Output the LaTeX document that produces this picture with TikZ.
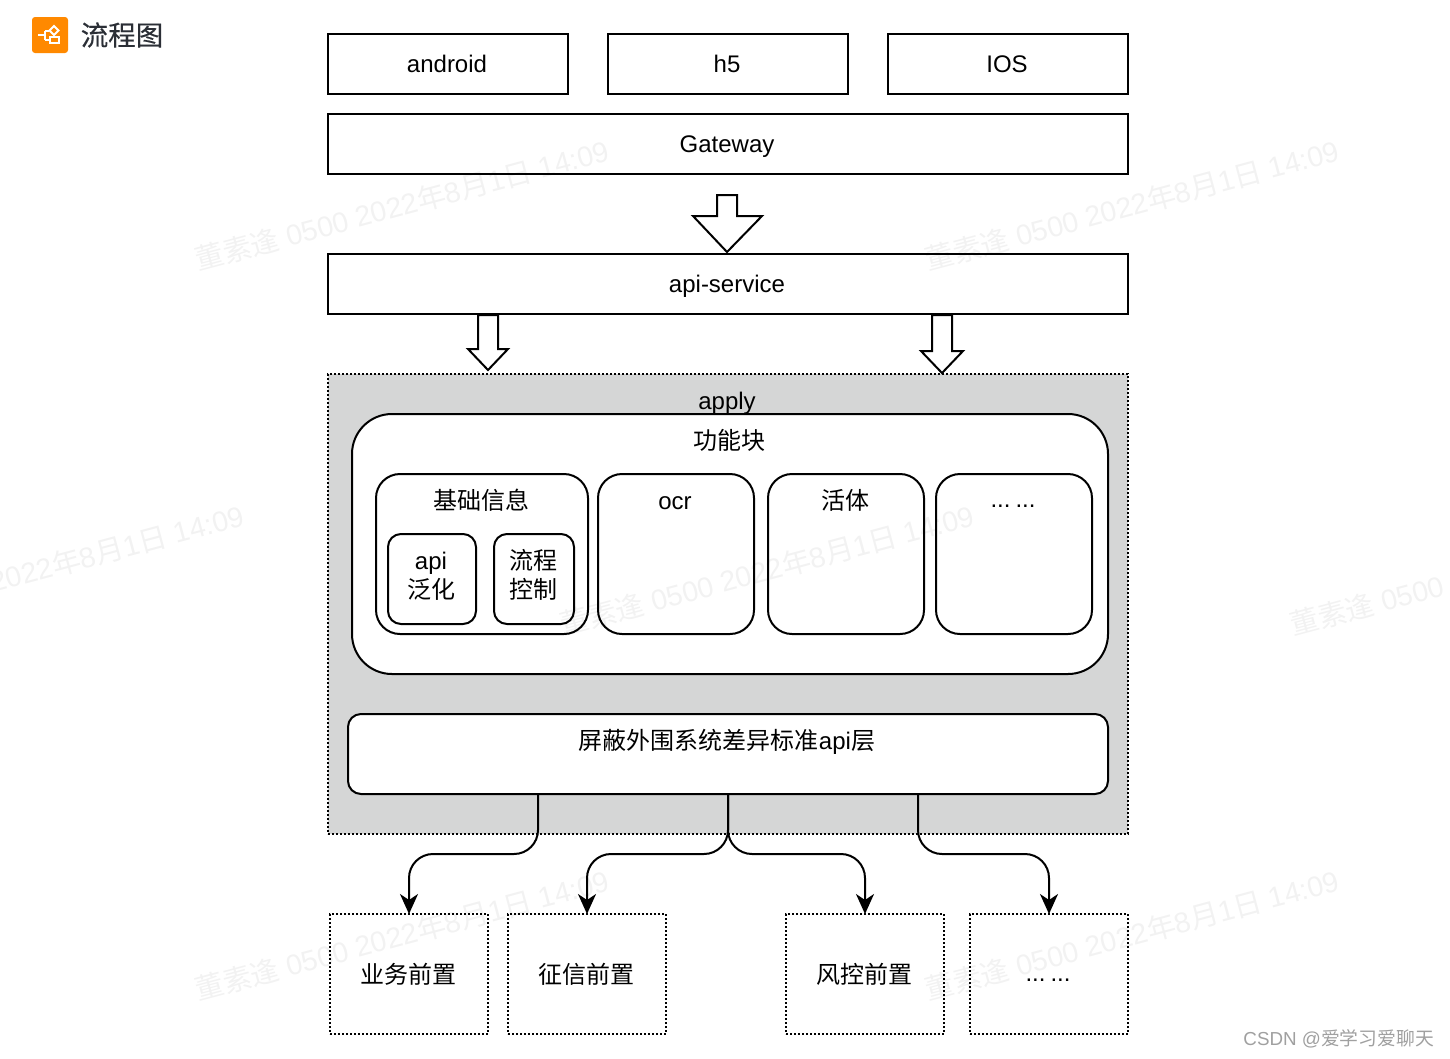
\documentclass[tikz,border=0pt]{standalone}
\usepackage{fontspec}
\setmainfont{Liberation Sans}
\newfontfamily\cjk{Noto Sans CJK SC}
\newfontfamily\cjkm{Noto Sans CJK SC}[FakeBold=0.35]
\usetikzlibrary{arrows.meta}
\definecolor{applygrey}{HTML}{D5D6D6}
\newcommand{\wmtext}{{\cjk 董素逢} 0500 2022{\cjk 年}8{\cjk 月}1{\cjk 日} 14:09}
\tikzset{
  box/.style={draw=black,line width=2pt,fill=white,inner sep=0pt,outer sep=0pt},
  plainbox/.style={box,rectangle},
  dotbox/.style={box,dash pattern=on 2pt off 2pt},
  lbl/.style={inner sep=0pt,outer sep=0pt,align=center,font=\fontsize{24}{28.5}\selectfont},
  blockarrow/.style={draw=black,line width=2pt,fill=white,line join=miter},
  conn/.style={draw=black,line width=2pt,rounded corners=24pt,-{Stealth[length=20pt,width=18pt,inset=6pt]}},
  wm/.style={inner sep=0pt,rotate=15,text=black,text opacity=0.05,font=\fontsize{28.7}{34}\selectfont},
}
\begin{document}
\begin{tikzpicture}[x=1pt,y=-1pt]
\path[use as bounding box,fill=white] (0,0) rectangle (1450,1058);
\clip (0,0) rectangle (1450,1058);

% top row
\node[plainbox,minimum width=240pt,minimum height=60pt] (android) at (448,64) {};
\node[plainbox,minimum width=240pt,minimum height=60pt] (h5) at (728,64) {};
\node[plainbox,minimum width=240pt,minimum height=60pt] (ios) at (1008,64) {};
\node[plainbox,minimum width=800pt,minimum height=60pt] (gateway) at (728,144) {};
\node[plainbox,minimum width=800pt,minimum height=60pt] (apiservice) at (728,284) {};
\node[lbl] (tandroid) at (447,64) {android};
\node[lbl] (th5) at (727,64) {h5};
\node[lbl] (tios) at (1007,64) {IOS};
\node[lbl] (tgateway) at (727,146.5) {Gateway};
\node[lbl] (tapiservice) at (727,286) {api-service};

% block arrows
\draw[blockarrow] (717,195) -- (737,195) -- (737,216) -- (762,216) -- (727,252) -- (693,216) -- (717,216) -- cycle;
\draw[blockarrow] (478,315) -- (498,315) -- (498,349) -- (508,349) -- (488,370) -- (468,349) -- (478,349) -- cycle;

% apply container
\node[dotbox,fill=applygrey,minimum width=800pt,minimum height=460pt] (apply) at (728,604) {};
\draw[blockarrow] (932,315) -- (952,315) -- (952,351) -- (963,351) -- (942,373) -- (921,351) -- (932,351) -- cycle;
\node[box,rounded corners=40pt,minimum width=756pt,minimum height=260pt] (func) at (730,544) {};
\node[lbl] (tapply) at (727,403) {apply};
\node[lbl] (tfunc) at (729,440) {\cjk 功能块};

\node[box,rounded corners=24pt,minimum width=212pt,minimum height=160pt] (base) at (482,554) {};
\node[box,rounded corners=24pt,minimum width=156pt,minimum height=160pt] (ocr) at (676,554) {};
\node[box,rounded corners=24pt,minimum width=156pt,minimum height=160pt] (live) at (846,554) {};
\node[box,rounded corners=24pt,minimum width=156pt,minimum height=160pt] (more) at (1014,554) {};
\node[lbl] (tbase) at (481,500) {\cjk 基础信息};
\node[lbl] (tocr) at (675,503) {ocr};
\node[lbl] (tlive) at (845,500) {\cjk 活体};
\node[lbl] (tmore) at (1013,506) {...\hspace{5pt}...};
\node[box,rounded corners=13pt,minimum width=88pt,minimum height=90pt] (api) at (432,579) {};
\node[box,rounded corners=13pt,minimum width=80pt,minimum height=90pt] (flow) at (534,579) {};
\node[lbl,font=\fontsize{24}{29}\selectfont] (tapi) at (431,576) {api\\{\cjk 泛化}};
\node[lbl] (tflow) at (533,575) {{\cjk 流程}\\{\cjk 控制}};

\node[box,rounded corners=13pt,minimum width=760pt,minimum height=80pt] (layer) at (728,754) {};
\node[lbl] (tlayer) at (727,741.5) {{\cjk 屏蔽外围系统差异标准}api{\cjk 层}};

% bottom row
\node[dotbox,minimum width=158pt,minimum height=120pt] (b1) at (409,974) {};
\node[dotbox,minimum width=158pt,minimum height=120pt] (b2) at (587,974) {};
\node[dotbox,minimum width=158pt,minimum height=120pt] (b3) at (865,974) {};
\node[dotbox,minimum width=158pt,minimum height=120pt] (b4) at (1049,974) {};
\node[lbl] (tb1) at (408,974) {\cjk 业务前置};
\node[lbl] (tb2) at (586,974) {\cjk 征信前置};
\node[lbl] (tb3) at (864,974) {\cjk 风控前置};
\node[lbl] (tb4) at (1048,980) {...\hspace{5pt}...};

% connectors
\coordinate (s1) at (538,794);
\coordinate (s2) at (728,794);
\coordinate (s3) at (918,794);
\draw[conn] (s1) -- ++(0,60) -| (b1.north);
\draw[conn] (s2) -- ++(0,60) -| (b2.north);
\draw[conn] (s2) -- ++(0,60) -| (b3.north);
\draw[conn] (s3) -- ++(0,60) -| (b4.north);

% logo
\node[fill={rgb,255:red,255;green,137;blue,0},rounded corners=3pt,minimum size=36pt,inner sep=0pt,outer sep=0pt] (logo) at (50,35) {};
\draw[white,line width=2pt] (38,35) -- (45,35) (45,30.5) -- (45,40) (45,30.5) -- (49,30.5) (45,40) -- (50,40);
\draw[white,line width=2pt] (54,26) -- (58.5,30.5) -- (54,35) -- (49.5,30.5) -- cycle;
\draw[white,line width=2pt] (50,37) rectangle (59,43);
\node[inner sep=0pt,text={rgb,255:red,43;green,47;blue,54},font=\fontsize{27.5}{30}\selectfont\cjkm] (logotext) at (122,35) {流程图};

% watermarks
\node[wm] (w1) at (402,205) {\wmtext};
\node[wm] (w2) at (1132,205) {\wmtext};
\node[wm] (w3) at (37,570) {\wmtext};
\node[wm] (w4) at (767,570) {\wmtext};
\node[wm] (w5) at (1497,570) {\wmtext};
\node[wm] (w6) at (402,935) {\wmtext};
\node[wm] (w7) at (1132,935) {\wmtext};

\node[anchor=east,inner sep=0pt,text={rgb,255:red,160;green,160;blue,160},font=\fontsize{18.8}{24}\selectfont] (csdn) at (1434,1039) {CSDN @{\cjk 爱学习爱聊天}};
\end{tikzpicture}
\end{document}
